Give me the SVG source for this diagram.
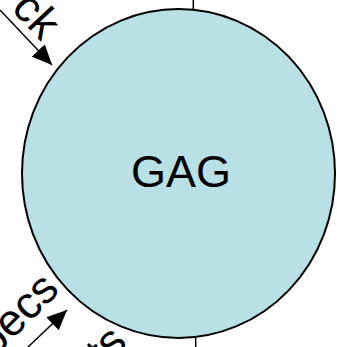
<svg xmlns="http://www.w3.org/2000/svg" width="337" height="347" viewBox="0 0 337 347">
<style>
.lbl{font-family:"Liberation Sans",Arial,sans-serif;font-size:45px;fill:#000}
.ln{stroke:#000;stroke-width:1.5;fill:none}
</style>
<defs>
<marker id="ah" markerWidth="20" markerHeight="18" refX="20" refY="9" orient="auto" markerUnits="userSpaceOnUse">
<path d="M0,0 L20,9 L0,18 Z" fill="#000"/>
</marker>
</defs>
<g id="connectors">
<line class="ln" x1="193.3" y1="0" x2="193.3" y2="9"/>
<line class="ln" x1="195.7" y1="338" x2="195.7" y2="347"/>
<line class="ln" x1="0" y1="10" x2="52" y2="65" marker-end="url(#ah)"/>
<line class="ln" x1="28" y1="347" x2="67" y2="310" marker-end="url(#ah)"/>
<text class="lbl" text-anchor="end" transform="translate(41,42) rotate(47)">ck</text>
<text class="lbl" text-anchor="end" transform="translate(61,291) rotate(-45)">pecs</text>
<text class="lbl" text-anchor="end" transform="translate(129,344) rotate(-45)">ts</text>
</g>
<g id="gag">
<ellipse cx="178.5" cy="173.5" rx="156.5" ry="164.5" fill="#b9e0e4" stroke="#000" stroke-width="2"/>
<text class="lbl" x="181" y="187" text-anchor="middle">GAG</text>
</g>
</svg>
